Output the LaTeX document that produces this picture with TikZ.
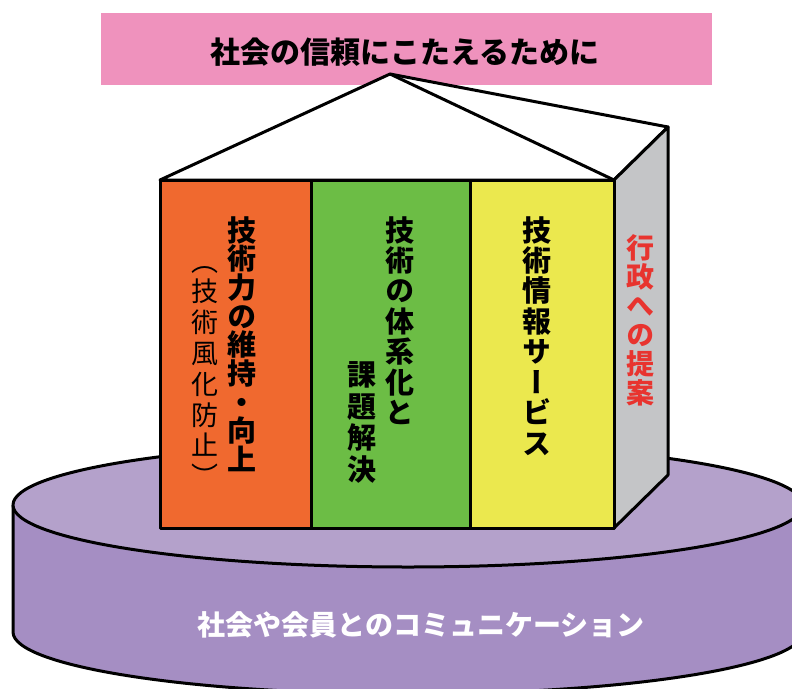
\documentclass[tikz,border=0pt]{standalone}
\usepackage{fontspec}
\newfontfamily\jpfont{Noto Sans CJK JP}
\newfontfamily\jpvert{Noto Sans CJK JP}[RawFeature=+vert]

\definecolor{pinkbox}{HTML}{EF92BD}
\definecolor{orangeface}{HTML}{F0692F}
\definecolor{greenface}{HTML}{6CBD45}
\definecolor{yellowface}{HTML}{EBE84E}
\definecolor{greyside}{HTML}{C4C5C7}
\definecolor{disctop}{HTML}{B4A1CB}
\definecolor{discside}{HTML}{A58EC3}
\definecolor{redtext}{HTML}{E8342F}

\def\vloop#1{\ifx#1\relax\else\hbox to 1em{\hss#1\hss}\expandafter\vloop\fi}
\newcommand\vtext[2][1.0em]{\vbox{\baselineskip=#1\lineskiplimit=-100pt\vloop#2\relax}}

\begin{document}
\begin{tikzpicture}[x=1pt,y=-1pt,line join=round,
    face/.style={draw=black,line width=3pt},
    vlabel/.style={inner sep=0pt,anchor=north,font=\jpvert\fontsize{29}{29}\selectfont\bfseries}]
  \useasboundingbox (0,0) rectangle (792,688);
  \clip (0,0) rectangle (792,688);

  \fill[discside] (13,505) -- (13,632) arc[start angle=180,end angle=0,x radius=395,y radius=62]
    -- (803,505) arc[start angle=0,end angle=180,x radius=395,y radius=62] -- cycle;
  \draw[line width=3pt] (13,505) -- (13,632) arc[start angle=180,end angle=0,x radius=395,y radius=62] -- (803,505);
  \filldraw[fill=disctop,line width=3pt] (408,505) ellipse[x radius=395,y radius=62];

  \fill[pinkbox] (101,13) rectangle (712,85);
  \node[font=\jpfont\fontsize{30}{30}\selectfont\bfseries] (title) at (405,52) {社会の信頼にこたえるために};

  \filldraw[face,fill=white] (160,180) -- (390,74) -- (668,127) -- (614,180) -- cycle;
  \draw[line width=3pt] (390,74) -- (614,180);
  \filldraw[face,fill=greyside] (614,180) -- (668,127) -- (668,475) -- (614,528) -- cycle;
  \filldraw[face,fill=orangeface] (160,180) rectangle (311,528);
  \filldraw[face,fill=greenface] (311,180) rectangle (470,528);
  \filldraw[face,fill=yellowface] (470,180) rectangle (614,528);

  \node[vlabel] (skill) at (242,216) {\vtext[0.99em]{技術力の維持・向上}};
  \node[vlabel,font=\jpvert\fontsize{27}{27}\selectfont] (fade) at (205,266) {\vtext[1.14em]{（技術風化防止）}};
  \node[vlabel] (system) at (400,216) {\vtext[1.05em]{技術の体系化と}};
  \node[vlabel] (issue) at (362,361) {\vtext[1.1em]{課題解決}};
  \node[vlabel] (info) at (537,216) {\vtext[1.05em]{技術情報サービス}};
  \node[vlabel,font=\jpvert\fontsize{28}{28}\selectfont\bfseries,text=redtext] (admin) at (640,234) {\vtext[1.04em]{行政への提案}};

  \node[font=\jpfont\fontsize{28}{28}\selectfont\bfseries,text=white] (comm) at (421,625) {社会や会員とのコミュニケーション};
\end{tikzpicture}
\end{document}
